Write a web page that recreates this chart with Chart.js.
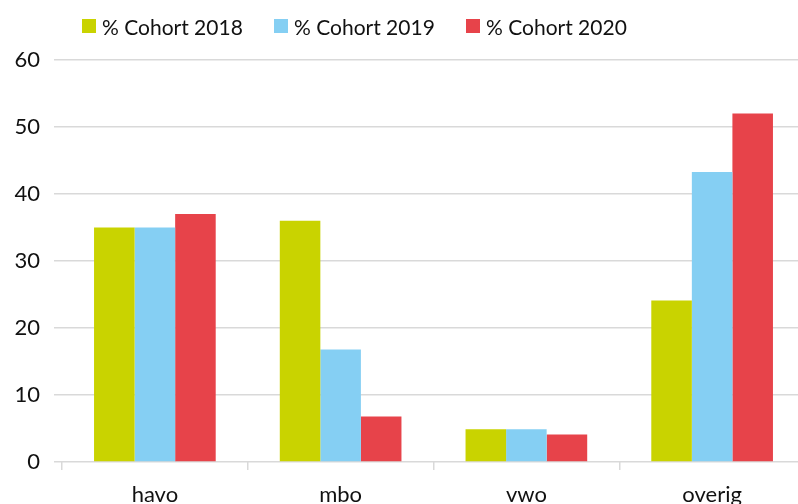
<!DOCTYPE html>
<html>
<head>
<meta charset="utf-8">
<script src="https://cdn.jsdelivr.net/npm/chart.js@4.4.1/dist/chart.umd.min.js"></script>
<style>
    html, body { margin: 0; padding: 0; background: #fff; overflow: hidden; }
    .wrap { position: relative; width: 798px; height: 504px; overflow: hidden; }
    #chart { position: absolute; left: 0; top: 0; }
    .legend-item { position: absolute; top: 13px; height: 26px; display: flex; align-items: center;
        font-family: Lato, "Open Sans", sans-serif; font-size: 21px; color: #111; white-space: nowrap; }
    .legend-box { width: 14px; height: 14px; margin-right: 6px; }
</style>
</head>
<body>
<div class="wrap">
    <canvas id="chart" width="805" height="504"></canvas>
    <div id="legend"></div>
</div>
<script>
    // data
    const categories = ['havo', 'mbo', 'vwo', 'overig'];
    const seriesLabels = ['% Cohort 2018', '% Cohort 2019', '% Cohort 2020'];
    const cohort2018 = [35, 36, 4.9, 24.1];
    const cohort2019 = [35, 16.8, 4.9, 43.3];
    const cohort2020 = [37, 6.8, 4.1, 52];
    const seriesColors = ['#c9d300', '#85cff3', '#e7434a'];
    const legendLeft = [82, 274, 466];

    const font = { family: 'Lato, "Open Sans", sans-serif', size: 22 };
    const gridColor = '#d9d9d9';

    // HTML legend placed like the original
    const legendEl = document.getElementById('legend');
    seriesLabels.forEach((label, i) => {
        const item = document.createElement('div');
        item.className = 'legend-item';
        item.style.left = legendLeft[i] + 'px';
        item.innerHTML = '<span class="legend-box" style="background:' + seriesColors[i] + '"></span>';
        const txt = document.createElement('span');
        txt.textContent = label;
        item.appendChild(txt);
        legendEl.appendChild(item);
    });

    const seriesData = [cohort2018, cohort2019, cohort2020];

    new Chart(document.getElementById('chart'), {
        type: 'bar',
        data: {
            labels: categories,
            datasets: seriesLabels.map((label, i) => ({
                label: label,
                data: seriesData[i],
                backgroundColor: seriesColors[i],
                borderWidth: 0,
                barPercentage: 1,
                categoryPercentage: 0.655
            }))
        },
        options: {
            responsive: false,
            animation: false,
            layout: { padding: { top: 60, left: 0, right: 0, bottom: 0 } },
            plugins: {
                legend: { display: false },
                tooltip: { enabled: false }
            },
            scales: {
                x: {
                    afterFit: scale => { scale.height = 42; },
                    grid: {
                        offset: true,
                        drawOnChartArea: false,
                        drawTicks: true,
                        tickLength: 8,
                        color: gridColor,
                        lineWidth: 1.5
                    },
                    border: { display: false },
                    ticks: { color: '#111', font: font, padding: 12, maxRotation: 0 }
                },
                y: {
                    min: 0,
                    max: 60,
                    afterFit: scale => { scale.width = 62; },
                    grid: {
                        color: gridColor,
                        lineWidth: 1.5,
                        drawTicks: true,
                        tickLength: 8
                    },
                    border: { display: false },
                    ticks: { stepSize: 10, color: '#111', font: font, padding: 14 }
                }
            }
        }
    });
</script>
</body>
</html>
